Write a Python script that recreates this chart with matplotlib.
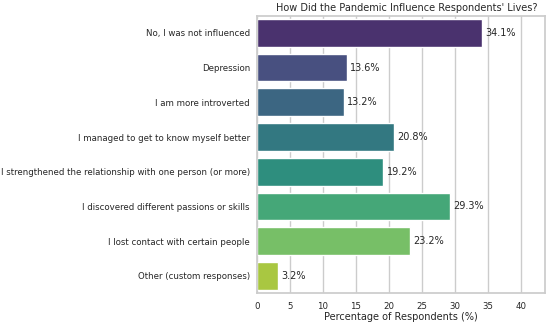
import matplotlib
matplotlib.use('Agg')
import matplotlib.pyplot as plt
import seaborn as sns
import pandas as pd

categories = [
    'No, I was not influenced',
    'Depression',
    'I am more introverted',
    'I managed to get to know myself better',
    'I strengthened the relationship with one person (or more)',
    'I discovered different passions or skills',
    'I lost contact with certain people',
    'Other (custom responses)',
]
percentages = [34.1, 13.6, 13.2, 20.8, 19.2, 29.3, 23.2, 3.2]

df = pd.DataFrame({'category': categories, 'pct': percentages})

sns.set_theme(style='whitegrid')
fig, ax = plt.subplots(figsize=(5.5, 3.24), dpi=100)
sns.barplot(data=df, x='pct', y='category', hue='category',
            palette='viridis', legend=False, ax=ax)

for i, v in enumerate(percentages):
    ax.text(v + 0.5, i, f'{v}%', va='center', fontsize=7)

ax.set_xlim(0, 43.7)
ax.set_title("How Did the Pandemic Influence Respondents' Lives?", fontsize=7, pad=3, x=0.52)
ax.set_xlabel('Percentage of Respondents (%)', fontsize=7, labelpad=1)
ax.set_ylabel('')
ax.tick_params(axis='y', labelsize=6.2, length=0, pad=5)
ax.tick_params(axis='x', labelsize=6.2, length=0, pad=6)

plt.subplots_adjust(left=0.467, right=0.991, top=0.952, bottom=0.095)
plt.savefig('out.png', dpi=100)
